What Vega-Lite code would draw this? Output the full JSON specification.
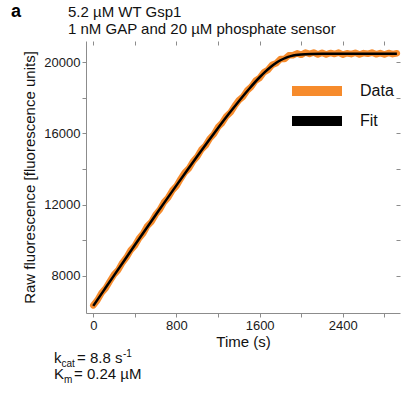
{
  "$schema": "https://vega.github.io/schema/vega-lite/v6.json",
  "width": 314,
  "height": 272,
  "autosize": {"type": "none"},
  "padding": {"left": 86, "top": 41, "right": 1, "bottom": 80},
  "background": "white",
  "config": {
    "view": {"stroke": null},
    "font": "Liberation Sans",
    "axis": {
      "labelFont": "Liberation Sans",
      "titleFont": "Liberation Sans",
      "labelFontSize": 13,
      "titleFontSize": 15,
      "titleFontWeight": "normal",
      "labelColor": "#1a1a1a",
      "titleColor": "#111111",
      "domainColor": "#8c8c8c",
      "tickColor": "#8c8c8c",
      "tickSize": 4,
      "labelPadding": 2,
      "grid": false
    }
  },
  "datasets": {
    "measured": [
      {"t": 0, "v": 6330, "series": "Data"}, {"t": 40, "v": 6624, "series": "Data"}, {"t": 80, "v": 7027, "series": "Data"},
      {"t": 120, "v": 7301, "series": "Data"}, {"t": 160, "v": 7694, "series": "Data"}, {"t": 200, "v": 8067, "series": "Data"},
      {"t": 240, "v": 8319, "series": "Data"}, {"t": 280, "v": 8730, "series": "Data"}, {"t": 320, "v": 9031, "series": "Data"},
      {"t": 360, "v": 9432, "series": "Data"}, {"t": 400, "v": 9692, "series": "Data"}, {"t": 440, "v": 10100, "series": "Data"},
      {"t": 480, "v": 10379, "series": "Data"}, {"t": 520, "v": 10796, "series": "Data"}, {"t": 560, "v": 11033, "series": "Data"},
      {"t": 600, "v": 11440, "series": "Data"}, {"t": 640, "v": 11716, "series": "Data"}, {"t": 680, "v": 12131, "series": "Data"},
      {"t": 720, "v": 12395, "series": "Data"}, {"t": 760, "v": 12787, "series": "Data"}, {"t": 800, "v": 13039, "series": "Data"},
      {"t": 840, "v": 13439, "series": "Data"}, {"t": 880, "v": 13798, "series": "Data"}, {"t": 920, "v": 14036, "series": "Data"},
      {"t": 960, "v": 14433, "series": "Data"}, {"t": 1000, "v": 14699, "series": "Data"}, {"t": 1040, "v": 15089, "series": "Data"},
      {"t": 1080, "v": 15320, "series": "Data"}, {"t": 1120, "v": 15708, "series": "Data"}, {"t": 1160, "v": 15963, "series": "Data"},
      {"t": 1200, "v": 16358, "series": "Data"}, {"t": 1240, "v": 16595, "series": "Data"}, {"t": 1280, "v": 16962, "series": "Data"},
      {"t": 1320, "v": 17183, "series": "Data"}, {"t": 1360, "v": 17548, "series": "Data"}, {"t": 1400, "v": 17864, "series": "Data"},
      {"t": 1440, "v": 18065, "series": "Data"}, {"t": 1480, "v": 18416, "series": "Data"}, {"t": 1520, "v": 18626, "series": "Data"},
      {"t": 1560, "v": 18963, "series": "Data"}, {"t": 1600, "v": 19121, "series": "Data"}, {"t": 1640, "v": 19439, "series": "Data"},
      {"t": 1680, "v": 19573, "series": "Data"}, {"t": 1720, "v": 19858, "series": "Data"}, {"t": 1760, "v": 19950, "series": "Data"},
      {"t": 1800, "v": 20186, "series": "Data"}, {"t": 1840, "v": 20187, "series": "Data"}, {"t": 1880, "v": 20392, "series": "Data"},
      {"t": 1920, "v": 20403, "series": "Data"}, {"t": 1960, "v": 20505, "series": "Data"}, {"t": 2000, "v": 20422, "series": "Data"},
      {"t": 2040, "v": 20553, "series": "Data"}, {"t": 2080, "v": 20474, "series": "Data"}, {"t": 2120, "v": 20552, "series": "Data"},
      {"t": 2160, "v": 20445, "series": "Data"}, {"t": 2200, "v": 20538, "series": "Data"}, {"t": 2240, "v": 20439, "series": "Data"},
      {"t": 2280, "v": 20530, "series": "Data"}, {"t": 2320, "v": 20470, "series": "Data"}, {"t": 2360, "v": 20550, "series": "Data"},
      {"t": 2400, "v": 20430, "series": "Data"}, {"t": 2440, "v": 20510, "series": "Data"}, {"t": 2480, "v": 20460, "series": "Data"},
      {"t": 2520, "v": 20540, "series": "Data"}, {"t": 2560, "v": 20440, "series": "Data"}, {"t": 2600, "v": 20520, "series": "Data"},
      {"t": 2640, "v": 20480, "series": "Data"}, {"t": 2680, "v": 20550, "series": "Data"}, {"t": 2720, "v": 20450, "series": "Data"},
      {"t": 2760, "v": 20520, "series": "Data"}, {"t": 2800, "v": 20440, "series": "Data"}, {"t": 2840, "v": 20530, "series": "Data"},
      {"t": 2880, "v": 20460, "series": "Data"}, {"t": 2920, "v": 20510, "series": "Data"}
    ],
    "fitted": [
      {"t": 0, "v": 6300, "series": "Fit"}, {"t": 100, "v": 7159, "series": "Fit"}, {"t": 200, "v": 8017, "series": "Fit"},
      {"t": 300, "v": 8871, "series": "Fit"}, {"t": 400, "v": 9722, "series": "Fit"}, {"t": 500, "v": 10568, "series": "Fit"},
      {"t": 600, "v": 11410, "series": "Fit"}, {"t": 700, "v": 12249, "series": "Fit"}, {"t": 800, "v": 13079, "series": "Fit"},
      {"t": 900, "v": 13903, "series": "Fit"}, {"t": 1000, "v": 14719, "series": "Fit"}, {"t": 1100, "v": 15520, "series": "Fit"},
      {"t": 1200, "v": 16308, "series": "Fit"}, {"t": 1300, "v": 17075, "series": "Fit"}, {"t": 1400, "v": 17814, "series": "Fit"},
      {"t": 1500, "v": 18517, "series": "Fit"}, {"t": 1600, "v": 19161, "series": "Fit"}, {"t": 1650, "v": 19446, "series": "Fit"},
      {"t": 1700, "v": 19707, "series": "Fit"}, {"t": 1750, "v": 19934, "series": "Fit"}, {"t": 1800, "v": 20116, "series": "Fit"},
      {"t": 1850, "v": 20255, "series": "Fit"}, {"t": 1900, "v": 20350, "series": "Fit"}, {"t": 1950, "v": 20408, "series": "Fit"},
      {"t": 2000, "v": 20442, "series": "Fit"}, {"t": 2100, "v": 20470, "series": "Fit"}, {"t": 2200, "v": 20478, "series": "Fit"},
      {"t": 2400, "v": 20480, "series": "Fit"}, {"t": 2920, "v": 20480, "series": "Fit"}
    ]
  },
  "resolve": {"axis": {"x": "independent", "y": "independent"}},
  "layer": [
    {
      "data": {"name": "measured"},
      "mark": {"type": "line", "strokeWidth": 6.5, "strokeJoin": "round", "strokeCap": "round"},
      "encoding": {
        "x": {"field": "t", "type": "quantitative",
          "scale": {"domain": [-70, 2950], "nice": false, "zero": false},
          "axis": {"orient": "bottom", "title": "Time (s)", "values": [0, 400, 800, 1200, 1600, 2000, 2400, 2800],
            "labelExpr": "datum.value % 800 === 0 ? datum.label : ''", "format": "d", "titlePadding": 2}},
        "y": {"field": "v", "type": "quantitative",
          "scale": {"domain": [5900, 21200], "nice": false, "zero": false},
          "axis": {"orient": "left", "title": "Raw fluorescence  [fluorescence units]",
            "values": [8000, 10000, 12000, 14000, 16000, 18000, 20000],
            "labelExpr": "datum.value % 4000 === 0 ? datum.label : ''", "format": "d", "titlePadding": 6}},
        "color": {"field": "series", "type": "nominal",
          "scale": {"domain": ["Data", "Fit"], "range": ["#f68b2c", "#000000"]},
          "legend": {"title": null, "orient": "none", "legendX": 221, "legendY": 40,
            "symbolType": "M-5,0H5", "symbolSize": 100, "symbolStrokeWidth": 10,
            "labelFont": "Liberation Sans", "labelFontSize": 16, "labelColor": "#111111",
            "labelOffset": 33, "rowPadding": -18, "padding": 0}}
      }
    },
    {
      "data": {"name": "fitted"},
      "mark": {"type": "line", "strokeWidth": 2.5, "interpolate": "monotone"},
      "encoding": {
        "x": {"field": "t", "type": "quantitative",
          "axis": {"orient": "top", "title": null, "labels": false, "domain": false, "tickSize": -4,
            "values": [0, 400, 800, 1200, 1600, 2000, 2400, 2800]}},
        "y": {"field": "v", "type": "quantitative",
          "axis": {"orient": "right", "title": null, "labels": false, "domain": false, "tickSize": -4,
            "values": [8000, 10000, 12000, 14000, 16000, 18000, 20000]}},
        "color": {"field": "series", "type": "nominal"}
      }
    },
    {
      "data": {"values": [{}]},
      "mark": {"type": "text", "text": "a", "fontSize": 18, "fontWeight": "bold", "align": "left", "baseline": "alphabetic", "color": "#000000"},
      "encoding": {"x": {"datum": -791, "type": "quantitative", "axis": null}, "y": {"datum": 22550, "type": "quantitative", "axis": null}}
    },
    {
      "data": {"values": [{}]},
      "mark": {"type": "text", "text": "5.2 µM WT Gsp1", "fontSize": 15, "align": "left", "baseline": "alphabetic", "color": "#111111"},
      "encoding": {"x": {"datum": -243, "type": "quantitative", "axis": null}, "y": {"datum": 22550, "type": "quantitative", "axis": null}}
    },
    {
      "data": {"values": [{}]},
      "mark": {"type": "text", "text": "1 nM GAP and 20 µM phosphate sensor", "fontSize": 15, "align": "left", "baseline": "alphabetic", "color": "#111111"},
      "encoding": {"x": {"datum": -243, "type": "quantitative", "axis": null}, "y": {"datum": 21594, "type": "quantitative", "axis": null}}
    },
    {
      "data": {"values": [{}]},
      "mark": {"type": "text", "text": "k", "fontSize": 15, "align": "left", "baseline": "alphabetic", "color": "#111111"},
      "encoding": {"x": {"datum": -378, "type": "quantitative", "axis": null}, "y": {"datum": 3060, "type": "quantitative", "axis": null}}
    },
    {
      "data": {"values": [{}]},
      "mark": {"type": "text", "text": "cat", "fontSize": 10, "dx": 7.5, "dy": 4, "align": "left", "baseline": "alphabetic", "color": "#111111"},
      "encoding": {"x": {"datum": -378, "type": "quantitative", "axis": null}, "y": {"datum": 3060, "type": "quantitative", "axis": null}}
    },
    {
      "data": {"values": [{}]},
      "mark": {"type": "text", "text": "= 8.8 s", "fontSize": 15, "dx": 23, "align": "left", "baseline": "alphabetic", "color": "#111111"},
      "encoding": {"x": {"datum": -378, "type": "quantitative", "axis": null}, "y": {"datum": 3060, "type": "quantitative", "axis": null}}
    },
    {
      "data": {"values": [{}]},
      "mark": {"type": "text", "text": "-1", "fontSize": 10, "dx": 69, "dy": -6, "align": "left", "baseline": "alphabetic", "color": "#111111"},
      "encoding": {"x": {"datum": -378, "type": "quantitative", "axis": null}, "y": {"datum": 3060, "type": "quantitative", "axis": null}}
    },
    {
      "data": {"values": [{}]},
      "mark": {"type": "text", "text": "K", "fontSize": 15, "align": "left", "baseline": "alphabetic", "color": "#111111"},
      "encoding": {"x": {"datum": -378, "type": "quantitative", "axis": null}, "y": {"datum": 2160, "type": "quantitative", "axis": null}}
    },
    {
      "data": {"values": [{}]},
      "mark": {"type": "text", "text": "m", "fontSize": 10, "dx": 10, "dy": 4, "align": "left", "baseline": "alphabetic", "color": "#111111"},
      "encoding": {"x": {"datum": -378, "type": "quantitative", "axis": null}, "y": {"datum": 2160, "type": "quantitative", "axis": null}}
    },
    {
      "data": {"values": [{}]},
      "mark": {"type": "text", "text": "= 0.24 µM", "fontSize": 15, "dx": 20, "align": "left", "baseline": "alphabetic", "color": "#111111"},
      "encoding": {"x": {"datum": -378, "type": "quantitative", "axis": null}, "y": {"datum": 2160, "type": "quantitative", "axis": null}}
    }
  ]
}
